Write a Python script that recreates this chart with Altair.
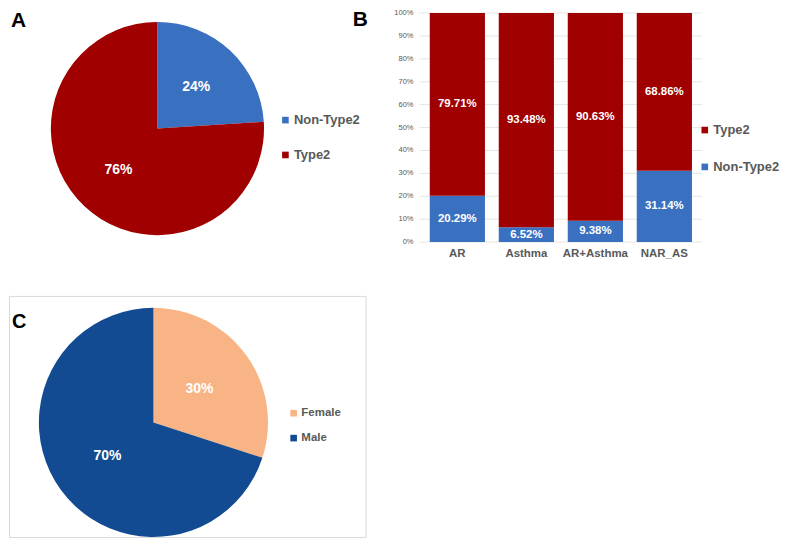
import altair as alt
import pandas as pd

# ---------------- data ----------------
# Panel A
a_cats = ["Non-Type2", "Type2"]
a_vals = [24, 76]
# Panel B
b_groups = ["AR", "Asthma", "AR+Asthma", "NAR_AS"]
b_non_type2 = [20.29, 6.52, 9.38, 31.14]
b_type2 = [79.71, 93.48, 90.63, 68.86]
b_ticks = [0, 0.1, 0.2, 0.3, 0.4, 0.5, 0.6, 0.7, 0.8, 0.9, 1.0]
b_tick_labels = ["0%", "10%", "20%", "30%", "40%", "50%", "60%", "70%", "80%", "90%", "100%"]
# Panel C
c_cats = ["Female", "Male"]
c_vals = [30, 70]

BLUE = "#3A70C0"
RED = "#A00000"
PEACH = "#F8B485"
NAVY = "#134B93"
GRAY = "#595959"
FONT = "Liberation Sans"


def legend(x, y, row_pad, size=13):
    return alt.Legend(
        orient="none", legendX=x, legendY=y, direction="vertical", title=None,
        symbolType="square", symbolSize=44, symbolStrokeWidth=0,
        labelFont=FONT, labelFontSize=size, labelFontWeight="bold",
        labelColor=GRAY, rowPadding=row_pad, labelOffset=2, padding=0,
    )


def letter(t, x, y, size=21):
    return alt.Chart(pd.DataFrame({"t": [t]})).mark_text(
        x=x, y=y, align="left", baseline="alphabetic", font=FONT,
        fontSize=size, fontWeight="bold", color="black"
    ).encode(text="t:N")


# ---------------- Panel A ----------------
dfA = pd.DataFrame({"cat": a_cats, "val": a_vals, "ord": [0, 1],
                    "label": [f"{v}%" for v in a_vals]})
cxA, cyA, rA = 149, 116, 107
baseA = alt.Chart(dfA).encode(
    theta=alt.Theta("val:Q", stack=True),
    order=alt.Order("ord:Q"),
)
arcA = baseA.mark_arc(x=cxA, y=cyA, radius=rA).encode(
    color=alt.Color("cat:N", scale=alt.Scale(domain=a_cats, range=[BLUE, RED]),
                    legend=legend(271, 101, 21))
)
txtA = baseA.mark_text(x=cxA, y=cyA, radius=57, font=FONT, fontSize=14,
                       fontWeight="bold", color="white").encode(text="label:N")
panelA = alt.layer(arcA, txtA, letter("A", 2, 14), letter("B", 345, 13)).properties(
    width=367, height=240)

# ---------------- Panel B ----------------
rows = []
for g, n, t in zip(b_groups, b_non_type2, b_type2):
    rows.append({"group": g, "cat": "Non-Type2", "val": n, "ord": 0})
    rows.append({"group": g, "cat": "Type2", "val": t, "ord": 1})
dfB = pd.DataFrame(rows)
dfB["label"] = dfB["val"].map(lambda v: f"{v:.2f}%")
dfTicks = pd.DataFrame({"v": b_ticks, "lab": b_tick_labels})

baseB = alt.Chart(dfB).transform_stack(
    stack="val", as_=["y0", "y1"], groupby=["group"],
    sort=[alt.SortField("ord")], offset="normalize"
).transform_calculate(mid="(datum.y0 + datum.y1) / 2")

yScale = alt.Scale(domain=[0, 1], nice=False)
xB = alt.X("group:N", sort=b_groups, title=None,
           scale=alt.Scale(paddingInner=0.2, paddingOuter=0.15),
           axis=alt.Axis(labelAngle=0, ticks=False, domain=False,
                         labelFont=FONT, labelFontSize=11.5, labelFontWeight="bold",
                         labelColor=GRAY, labelPadding=5))

gridB = alt.Chart(dfTicks).mark_rule(color="#e6e6e6", strokeWidth=1).encode(
    y=alt.Y("v:Q", scale=yScale, axis=None)
)
ylabB = alt.Chart(dfTicks).mark_text(
    align="right", baseline="middle", font=FONT, fontSize=7.5, color=GRAY
).encode(
    y=alt.Y("v:Q", scale=yScale, axis=None),
    x=alt.value(-6),
    text="lab:N",
)
barsB = baseB.mark_bar(strokeWidth=0).encode(
    x=xB,
    y=alt.Y("y0:Q", title=None, scale=yScale, axis=None),
    y2="y1:Q",
    color=alt.Color("cat:N", scale=alt.Scale(domain=["Type2", "Non-Type2"], range=[RED, BLUE]),
                    legend=legend(280, 111, 23)),
)
txtB = baseB.mark_text(font=FONT, fontSize=11.5, fontWeight="bold", color="white",
                       baseline="middle").encode(
    x=alt.X("group:N", sort=b_groups, title=None),
    y=alt.Y("mid:Q", title=None, scale=yScale, axis=None),
    text="label:N",
)
panelB = alt.layer(gridB, barsB, txtB, ylabB).properties(width=284, height=230)

# ---------------- Panel C ----------------
dfC = pd.DataFrame({"cat": c_cats, "val": c_vals, "ord": [0, 1],
                    "label": [f"{v}%" for v in c_vals]})
cxC, cyC, rC = 145, 127, 115
baseC = alt.Chart(dfC).encode(
    theta=alt.Theta("val:Q", stack=True),
    order=alt.Order("ord:Q"),
)
arcC = baseC.mark_arc(x=cxC, y=cyC, radius=rC).encode(
    color=alt.Color("cat:N", scale=alt.Scale(domain=c_cats, range=[PEACH, NAVY]),
                    legend=legend(280, 112, 12, size=11.5))
)
txtC = baseC.mark_text(x=cxC, y=cyC, radius=57, font=FONT, fontSize=14,
                       fontWeight="bold", color="white").encode(text="label:N")
panelC = alt.layer(arcC, txtC, letter("C", 3, 32, size=20)).properties(
    width=358, height=242,
    view=alt.ViewBackground(stroke="#d9d9d9", strokeWidth=1),
)

top = alt.hconcat(panelA, panelB, spacing=19).resolve_scale(color="independent")
chart = alt.vconcat(top, panelC, spacing=36).resolve_scale(
    color="independent").properties(padding=0).configure_view(stroke=None)

chart.save("out.html", embed_options={"renderer": "svg", "actions": False})
